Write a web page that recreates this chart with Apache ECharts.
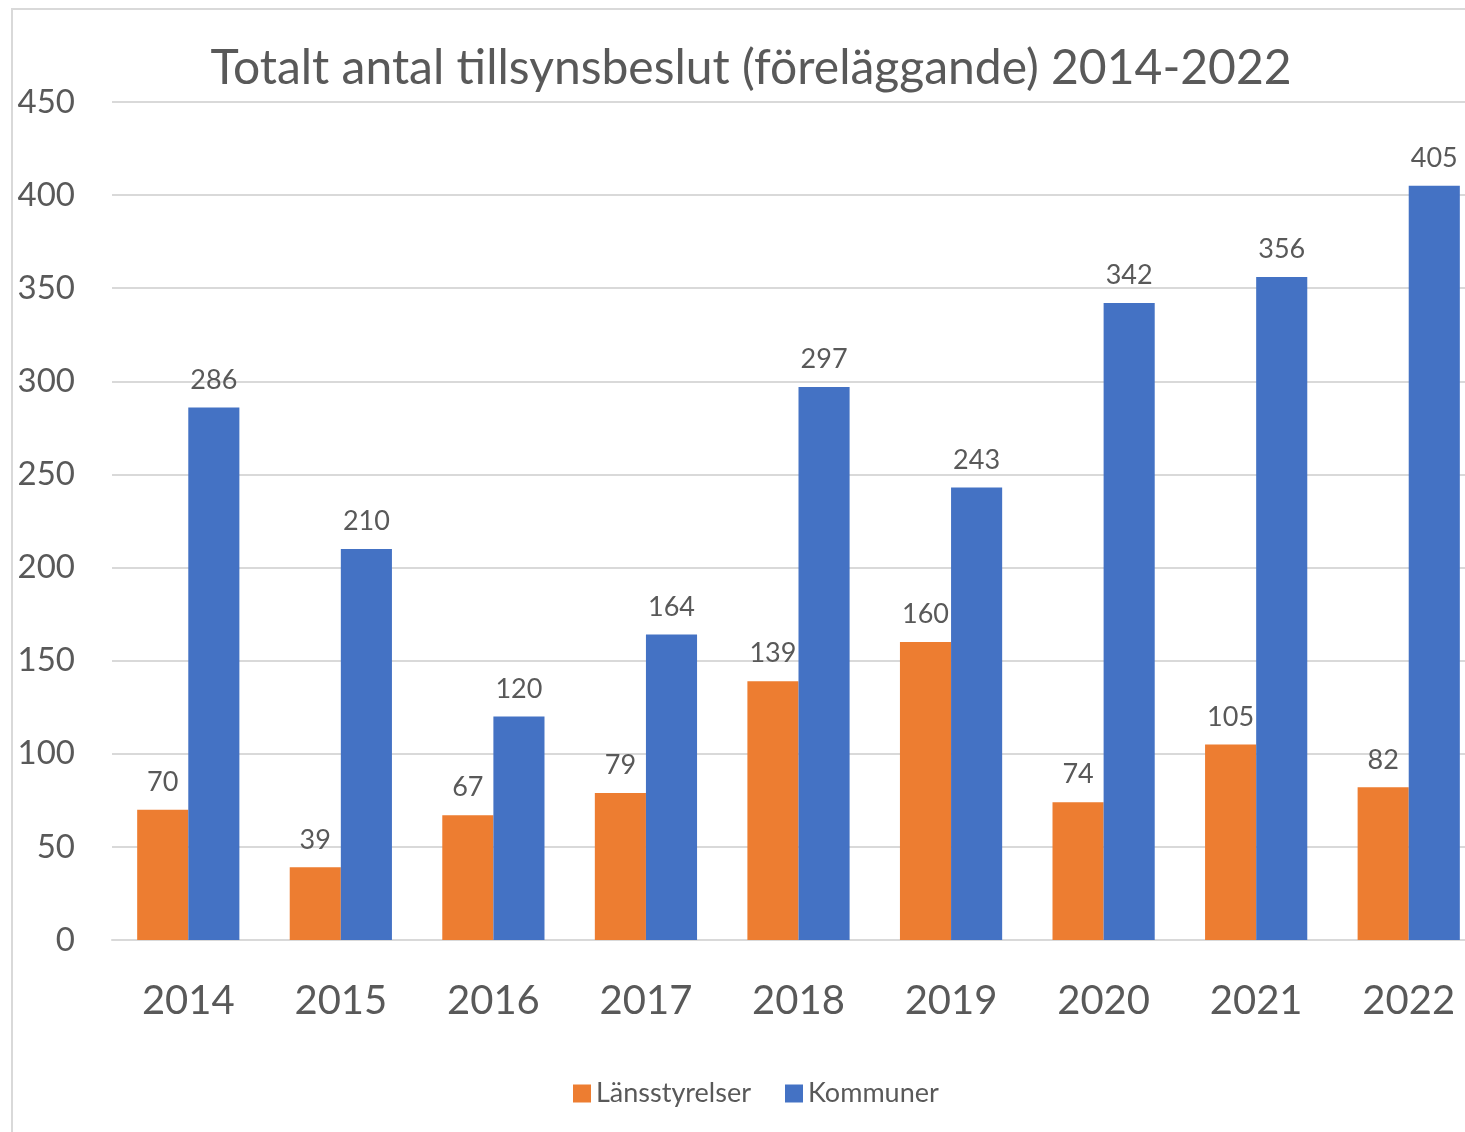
<!DOCTYPE html>
<html>
<head>
<meta charset="utf-8">
<style>
  html, body { margin: 0; padding: 0; background: #fff; }
  #chart { width: 1465px; height: 1132px; }
</style>
<script src="https://cdn.jsdelivr.net/npm/echarts@6/dist/echarts.min.js"></script>
</head>
<body>
<div id="chart"></div>
<script>
const years = ['2014', '2015', '2016', '2017', '2018', '2019', '2020', '2021', '2022'];
const lansstyrelser = [70, 39, 67, 79, 139, 160, 74, 105, 82];
const kommuner = [286, 210, 120, 164, 297, 243, 342, 356, 405];
const yTicks = { min: 0, max: 450, interval: 50 };

const textColor = '#595959';
const font = 'Lato, Carlito, "Open Sans", sans-serif';

function barLabel() {
  return {
    show: true,
    position: 'top',
    distance: 14,
    color: textColor,
    fontSize: 27,
    fontFamily: font,
  };
}

const chart = echarts.init(document.getElementById('chart'));
chart.setOption({
  animation: false,
  backgroundColor: '#fff',
  textStyle: { fontFamily: font },
  graphic: [{
    type: 'rect',
    shape: { x: 12, y: 9, width: 1500, height: 1200 },
    style: { fill: 'none', stroke: '#d9d9d9', lineWidth: 2 },
    silent: true,
  }],
  title: {
    text: 'Totalt antal tillsynsbeslut (föreläggande) 2014-2022',
    left: 746,
    textAlign: 'center',
    top: 40,
    textStyle: {
      color: textColor,
      fontSize: 48,
      fontWeight: 'normal',
      fontFamily: font,
    },
  },
  legend: {
    bottom: 20,
    left: 568,
    itemWidth: 18,
    itemHeight: 18,
    itemGap: 34,
    icon: 'rect',
    textStyle: { color: textColor, fontSize: 27, fontFamily: font },
    data: ['Länsstyrelser', 'Kommuner'],
  },
  grid: {
    left: 112,
    top: 102,
    bottom: 192,
    right: -20,
    containLabel: false,
    outerBoundsMode: 'none',
  },
  xAxis: {
    type: 'category',
    data: years,
    axisLine: { show: true, lineStyle: { color: '#d9d9d9', width: 2 } },
    axisTick: { show: false },
    axisLabel: {
      color: textColor,
      fontSize: 40,
      margin: 41,
      fontFamily: font,
    },
  },
  yAxis: {
    type: 'value',
    min: yTicks.min,
    max: yTicks.max,
    interval: yTicks.interval,
    axisLine: { show: false },
    axisTick: { show: false },
    splitLine: { lineStyle: { color: '#d9d9d9', width: 2 } },
    axisLabel: {
      color: textColor,
      fontSize: 33,
      margin: 37,
      fontFamily: font,
    },
  },
  series: [
    {
      name: 'Länsstyrelser',
      type: 'bar',
      data: lansstyrelser,
      barGap: '0%',
      barCategoryGap: '33%',
      itemStyle: { color: '#ed7d31' },
      label: barLabel(),
    },
    {
      name: 'Kommuner',
      type: 'bar',
      data: kommuner,
      barGap: '0%',
      barCategoryGap: '33%',
      itemStyle: { color: '#4472c4' },
      label: barLabel(),
    },
  ],
});
</script>
</body>
</html>
